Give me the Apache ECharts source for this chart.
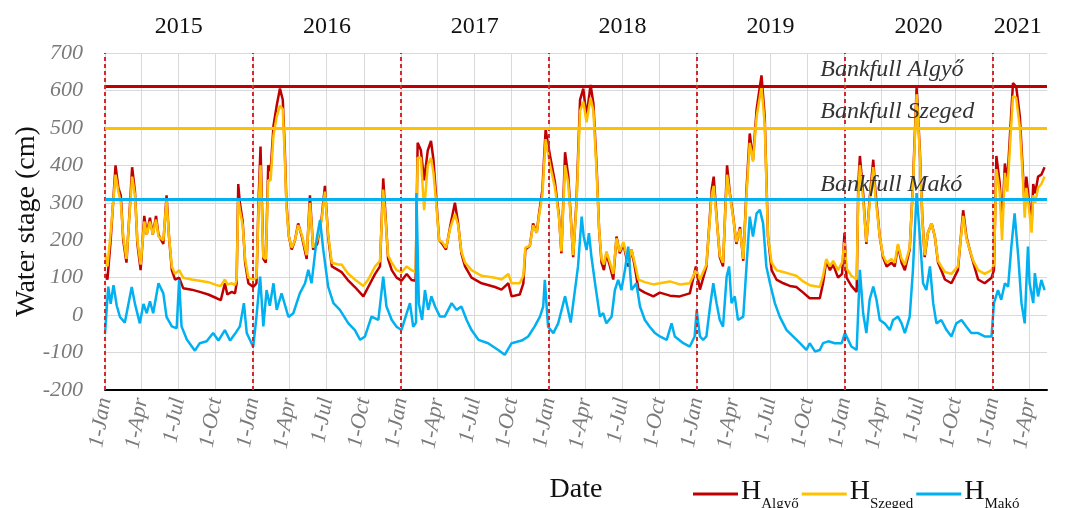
<!DOCTYPE html>
<html lang="en">
<head>
<meta charset="utf-8">
<title>Water stage Algyő - Szeged - Makó</title>
<script src="https://cdn.jsdelivr.net/npm/echarts@6/dist/echarts.min.js"></script>
<style>
    html, body { margin: 0; padding: 0; background: #fff; }
    #chart { width: 1065px; height: 508px; }
</style>
</head>
<body>
<div id="chart"></div>
<script>
// x axis: one category per day, 1 Jan 2015 .. 15 May 2021
var startDay = Date.UTC(2015, 0, 1);
var endDay = Date.UTC(2021, 4, 15);
var monthNames = ['Jan', 'Feb', 'Mar', 'Apr', 'May', 'Jun', 'Jul', 'Aug', 'Sep', 'Oct', 'Nov', 'Dec'];
var quarterMonths = [1, 4, 7, 10];

// year captions on top: [day index, label]
var yearLabels = [[182, '2015'], [548, '2016'], [913, '2017'], [1278, '2018'], [1643, '2019'], [2009, '2020'], [2254, '2021']];
var yearStarts = ['2015-01-01', '2016-01-01', '2017-01-01', '2018-01-01', '2019-01-01', '2020-01-01', '2021-01-01'];

// bankfull stages (cm)
var bankfullAlgyo = 610;
var bankfullSzeged = 500;
var bankfullMako = 310;

// water stage series: [days since 1 Jan 2015, cm]
var algyo = [
    [0,110],[6,95],[14,200],[26,400],[33,340],[39,320],[45,200],[53,140],[62,300],[67,395],[74,330],[80,190],[88,120],
    [97,265],[103,215],[111,260],[118,215],[126,265],[132,215],[144,190],[152,320],[158,210],[165,120],[173,95],[183,100],
    [193,72],[214,68],[234,62],[255,55],[276,45],[286,40],[296,85],[302,55],[313,62],[321,58],[325,85],[329,350],[333,300],
    [340,250],[346,140],[354,85],[366,75],[374,85],[379,300],[384,450],[391,150],[397,140],[403,400],[409,385],[416,505],
    [424,560],[432,605],[439,575],[444,440],[448,300],[454,210],[461,175],[469,200],[477,245],[486,210],[498,150],[506,320],
    [514,175],[524,190],[535,260],[543,345],[551,210],[560,130],[576,120],
    [584,115],[601,92],[617,75],[638,50],[650,75],[667,110],[679,130],[687,365],[693,260],[699,150],[708,120],[720,100],
    [732,92],[745,110],[757,94],[767,92],[772,460],[780,440],[788,360],[797,440],[805,465],[811,415],[817,325],[825,200],
    [833,190],[842,175],[852,235],[864,300],[872,245],[880,165],[889,130],[905,100],[930,85],[963,75],[979,68],[996,85],
    [1004,50],[1024,55],[1033,85],[1038,175],[1049,185],[1057,245],[1066,220],[1071,265],[1080,335],[1088,495],[1099,425],
    [1111,355],[1121,265],[1127,165],[1136,435],[1144,370],[1150,265],[1156,155],
    [1164,300],[1173,575],[1181,605],[1189,530],[1199,615],[1206,565],[1214,395],[1220,230],[1226,140],[1232,120],[1238,165],
    [1247,130],[1255,95],[1263,210],[1271,165],[1280,190],[1292,130],[1300,175],[1308,130],[1317,70],[1333,60],[1354,50],
    [1370,60],[1395,52],[1419,50],[1444,58],[1459,130],[1469,68],[1485,130],[1498,335],[1503,370],[1510,265],[1518,155],
    [1526,130],[1531,265],[1536,400],[1543,325],[1551,265],[1559,190],[1568,235],[1576,145],[1584,335],[1592,485],[1600,415],
    [1609,550],[1621,640],[1629,530],[1637,210],[1646,120],[1658,95],[1675,85],[1691,78],[1707,75],[1724,60],[1740,45],
    [1765,45],[1773,85],[1781,145],[1790,120],[1798,135],[1810,100],[1820,110],[1826,220],[1831,100],[1843,78],[1856,62],
    [1860,350],[1864,425],[1872,325],[1880,190],[1888,310],[1897,415],[1902,335],[1913,210],[1921,155],[1930,130],[1942,140],
    [1950,130],[1958,185],[1967,140],[1975,120],[1987,175],[1995,350],[2004,607],[2012,440],[2018,265],[2024,155],[2032,220],
    [2041,245],[2049,210],[2057,140],[2065,120],[2074,95],[2090,85],[2106,120],[2119,280],[2127,210],[2135,175],[2144,140],
    [2156,95],[2172,85],[2189,100],[2195,120],[2201,425],[2209,355],[2215,240],[2222,405],[2228,355],[2234,470],[2242,620],
    [2250,610],[2259,530],[2267,370],[2271,280],[2275,370],[2281,310],[2288,240],[2292,350],[2297,325],[2304,370],[2312,375],
    [2320,395]
];

var szeged = [
    [0,165],[6,130],[14,220],[26,375],[33,330],[39,300],[45,210],[53,150],[62,290],[67,370],[74,320],[80,200],[88,135],
    [97,250],[103,215],[111,250],[118,215],[126,255],[132,210],[144,200],[152,305],[158,210],[165,130],[173,110],[183,120],
    [193,100],[214,95],[234,92],[255,88],[276,80],[286,78],[296,95],[302,82],[313,85],[321,80],[325,95],[329,310],[333,280],
    [340,240],[346,150],[354,100],[366,95],[374,100],[379,280],[384,400],[391,155],[397,150],[403,360],[409,360],[416,480],
    [424,530],[432,560],[439,550],[444,420],[448,290],[454,210],[461,180],[469,200],[477,240],[486,215],[498,160],[506,300],
    [514,180],[524,200],[535,255],[543,330],[551,215],[560,140],[576,135],
    [584,135],[601,110],[617,95],[638,78],[650,95],[667,130],[679,145],[687,335],[693,250],[699,160],[708,140],[720,120],
    [732,115],[745,130],[757,120],[767,115],[772,420],[780,420],[788,280],[797,400],[805,420],[811,380],[817,310],[825,200],
    [833,195],[842,180],[852,230],[864,270],[872,240],[880,170],[889,140],[905,120],[930,105],[963,100],[979,95],[996,110],
    [1004,85],[1024,85],[1033,105],[1038,180],[1049,185],[1057,240],[1066,220],[1071,260],[1080,320],[1088,470],[1099,400],
    [1111,340],[1121,260],[1127,170],[1136,400],[1144,350],[1150,260],[1156,160],
    [1164,290],[1173,545],[1181,570],[1189,515],[1199,580],[1206,545],[1214,380],[1220,230],[1226,150],[1232,135],[1238,170],
    [1247,140],[1255,110],[1263,205],[1271,170],[1280,195],[1292,140],[1300,175],[1308,140],[1317,95],[1333,88],[1354,82],
    [1370,85],[1395,90],[1419,82],[1444,85],[1459,120],[1469,95],[1485,135],[1498,320],[1503,345],[1510,260],[1518,160],
    [1526,140],[1531,260],[1536,375],[1543,320],[1551,260],[1559,195],[1568,230],[1576,150],[1584,320],[1592,460],[1600,410],
    [1609,530],[1621,610],[1629,510],[1637,210],[1646,140],[1658,120],[1675,115],[1691,110],[1707,105],[1724,90],[1740,80],
    [1765,75],[1773,105],[1781,150],[1790,130],[1798,145],[1810,120],[1820,140],[1826,195],[1831,125],[1843,105],[1856,95],
    [1860,320],[1864,400],[1872,310],[1880,195],[1888,300],[1897,395],[1902,320],[1913,210],[1921,160],[1930,140],[1942,150],
    [1950,140],[1958,190],[1967,150],[1975,135],[1987,180],[1995,340],[2004,590],[2012,430],[2018,260],[2024,160],[2032,220],
    [2041,245],[2049,210],[2057,145],[2065,130],[2074,115],[2090,110],[2106,130],[2119,265],[2127,205],[2135,175],[2144,145],
    [2156,120],[2172,110],[2189,120],[2195,135],[2201,390],[2209,330],[2215,200],[2222,380],[2228,330],[2234,440],[2242,585],
    [2250,580],[2259,500],[2267,350],[2271,260],[2275,340],[2281,290],[2288,220],[2292,320],[2297,300],[2304,340],[2312,350],
    [2320,370]
];

var mako = [
    [0,-50],[8,76],[14,30],[21,80],[29,25],[37,-5],[49,-20],[66,75],[74,30],[86,-22],[95,30],[103,5],[111,37],[119,5],
    [132,85],[144,58],[152,-5],[165,-30],[177,-35],[183,94],[189,-30],[202,-65],[222,-95],[234,-75],[251,-70],[267,-48],
    [280,-68],[296,-40],[309,-68],[321,-50],[333,-30],[343,32],[350,-48],[366,-85],[374,-5],[383,103],[391,-30],[399,67],
    [407,25],[416,85],[424,14],[436,58],[453,-5],[465,5],[481,58],[494,85],[502,121],[510,85],[523,206],[531,254],[539,174],
    [551,76],[564,32],[580,14],
    [601,-22],[617,-40],[630,-66],[642,-57],[658,-4],[675,-13],[687,103],[695,23],[708,-13],[720,-31],[732,-40],[745,5],
    [753,32],[761,-31],[768,-20],[769,326],[775,30],[783,-13],[790,67],[798,14],[806,50],[815,23],[827,-4],[839,-4],
    [856,32],[868,14],[880,23],[893,-13],[905,-40],[922,-66],[946,-75],[971,-93],[987,-106],[1004,-75],[1029,-68],[1045,-57],
    [1061,-30],[1074,-4],[1082,23],[1086,94],[1094,-31],[1107,-48],[1119,-22],[1136,50],[1150,-20],
    [1168,130],[1177,263],[1182,210],[1189,174],[1195,219],[1201,157],[1210,85],[1222,-4],[1230,5],[1238,-22],[1251,-4],
    [1259,67],[1267,94],[1275,67],[1284,121],[1292,183],[1300,67],[1312,85],[1321,23],[1333,-13],[1345,-31],[1358,-48],
    [1370,-57],[1387,-66],[1399,-22],[1407,-57],[1428,-75],[1444,-84],[1456,-57],[1461,14],[1469,-57],[1477,-66],[1485,-57],
    [1494,23],[1502,85],[1510,32],[1518,-13],[1526,-31],[1535,103],[1541,130],[1547,32],[1555,50],[1563,-13],[1576,-4],
    [1584,130],[1592,263],[1600,210],[1609,272],[1617,281],[1625,245],[1633,130],[1642,85],[1654,32],[1666,-4],[1683,-40],
    [1699,-57],[1716,-75],[1732,-93],[1740,-75],
    [1753,-97],[1765,-93],[1773,-75],[1786,-70],[1802,-75],[1819,-75],[1827,-48],[1843,-84],[1856,-93],[1864,121],[1872,5],
    [1880,-48],[1888,41],[1897,76],[1905,41],[1913,-13],[1925,-22],[1938,-40],[1946,-13],[1958,-4],[1967,-22],[1975,-48],
    [1987,-4],[1995,121],[2004,326],[2012,210],[2020,85],[2028,67],[2037,130],[2045,32],[2053,-22],[2065,-13],[2078,-40],
    [2090,-57],[2102,-22],[2115,-13],[2127,-31],[2139,-48],[2156,-48],[2172,-57],[2189,-57],[2195,32],[2205,67],[2213,41],
    [2222,85],[2230,76],[2238,183],[2246,272],[2255,157],[2263,32],[2271,-22],[2275,85],[2279,183],[2283,85],[2292,32],
    [2296,112],[2304,50],[2312,94],[2320,67]
];

// build day categories
var days = [];
for (var t = startDay; t <= endDay; t += 86400000) {
    days.push(new Date(t).toISOString().slice(0, 10));
}

function isQuarterStart(index, value) {
    var m = +value.slice(5, 7), d = +value.slice(8, 10);
    return d === 1 && quarterMonths.indexOf(m) >= 0;
}

var yearLabelMap = {};
yearLabels.forEach(function (y) { yearLabelMap[y[0]] = y[1]; });

var serif = 'Liberation Serif';
var red = '#c00000', yellow = '#ffc000', blue = '#00b0f0';

var chart = echarts.init(document.getElementById('chart'));

function bankfullText(text, coord) {
    return {
        symbol: 'circle',
        symbolSize: 1,
        itemStyle: {color: 'rgba(0,0,0,0)'},
        data: [{coord: coord, value: text}],
        label: {
            show: true, position: 'right', distance: 0,
            formatter: text,
            fontFamily: serif, fontStyle: 'italic', fontSize: 24, color: '#333'
        }
    };
}

var option = {
    animation: false,
    grid: {left: 105, right: 18, top: 53, bottom: 118, containLabel: false, outerBoundsMode: 'none'},
    legend: {
        left: 688, top: 471,
        itemWidth: 45, itemHeight: 3, itemGap: 3,
        icon: 'rect',
        data: ['Algyő', 'Szeged', 'Makó'],
        formatter: function (name) { return '{h|H}{s|' + name + '}'; },
        textStyle: {
            padding: [0, 0, 0, -2],
            rich: {
                h: {fontFamily: serif, fontSize: 28, color: '#111', lineHeight: 36, verticalAlign: 'top', padding: [2, 0, 0, 0]},
                s: {fontFamily: serif, fontSize: 15, color: '#111', lineHeight: 36, verticalAlign: 'bottom'}
            }
        }
    },
    xAxis: [{
        type: 'category',
        data: days,
        boundaryGap: false,
        name: 'Date',
        nameLocation: 'middle',
        nameGap: 86,
        nameMoveOverlap: false,
        nameTextStyle: {fontFamily: serif, fontSize: 28, color: '#111'},
        axisLine: {onZero: false, lineStyle: {color: '#000', width: 2}},
        axisTick: {show: false},
        axisLabel: {
            interval: isQuarterStart,
            rotate: 80,
            margin: 8,
            fontFamily: serif, fontStyle: 'italic', fontSize: 22, color: '#7a7a7a',
            formatter: function (v) { return '1-' + monthNames[+v.slice(5, 7) - 1]; }
        },
        splitLine: {show: true, interval: isQuarterStart, lineStyle: {color: '#d9d9d9', width: 1}}
    }, {
        type: 'category',
        data: days,
        boundaryGap: false,
        position: 'top',
        axisLine: {show: false},
        axisTick: {show: false},
        splitLine: {show: false},
        axisLabel: {
            interval: function (index) { return yearLabelMap[index] !== undefined; },
            formatter: function (v, index) { return yearLabelMap[index] || ''; },
            margin: 14,
            fontFamily: serif, fontSize: 24, color: '#111'
        }
    }],
    yAxis: {
        type: 'value',
        min: -200, max: 700, interval: 100,
        name: 'Water stage (cm)',
        nameLocation: 'middle',
        nameGap: 64,
        nameMoveOverlap: false,
        nameTextStyle: {fontFamily: serif, fontSize: 28, color: '#111'},
        axisLine: {show: false},
        axisTick: {show: false},
        axisLabel: {margin: 22, fontFamily: serif, fontStyle: 'italic', fontSize: 22, color: '#7a7a7a'},
        splitLine: {lineStyle: {color: '#d9d9d9', width: 1}}
    },
    series: [{
        name: 'Algyő',
        type: 'line',
        data: algyo,
        showSymbol: false,
        color: red,
        lineStyle: {width: 2.5, color: red},
        markLine: {
            silent: true, symbol: 'none', animation: false,
            label: {show: false},
            data: [{yAxis: bankfullAlgyo, lineStyle: {color: red, width: 3, type: 'solid'}}].concat(
                yearStarts.map(function (d) {
                    return {xAxis: d, lineStyle: {color: '#d42a2a', width: 2, type: [4, 3]}};
                }))
        },
        markPoint: bankfullText('Bankfull Algyő', [1765, 655])
    }, {
        name: 'Szeged',
        type: 'line',
        data: szeged,
        showSymbol: false,
        color: yellow,
        lineStyle: {width: 2.5, color: yellow},
        markLine: {
            silent: true, symbol: 'none', animation: false,
            label: {show: false},
            data: [{yAxis: bankfullSzeged, lineStyle: {color: yellow, width: 3, type: 'solid'}}]
        },
        markPoint: bankfullText('Bankfull Szeged', [1765, 543])
    }, {
        name: 'Makó',
        type: 'line',
        data: mako,
        showSymbol: false,
        color: blue,
        lineStyle: {width: 2.5, color: blue},
        markLine: {
            silent: true, symbol: 'none', animation: false,
            label: {show: false},
            data: [{yAxis: bankfullMako, lineStyle: {color: blue, width: 3, type: 'solid'}}]
        },
        markPoint: bankfullText('Bankfull Makó', [1765, 348])
    }]
};

chart.setOption(option);
</script>
</body>
</html>
